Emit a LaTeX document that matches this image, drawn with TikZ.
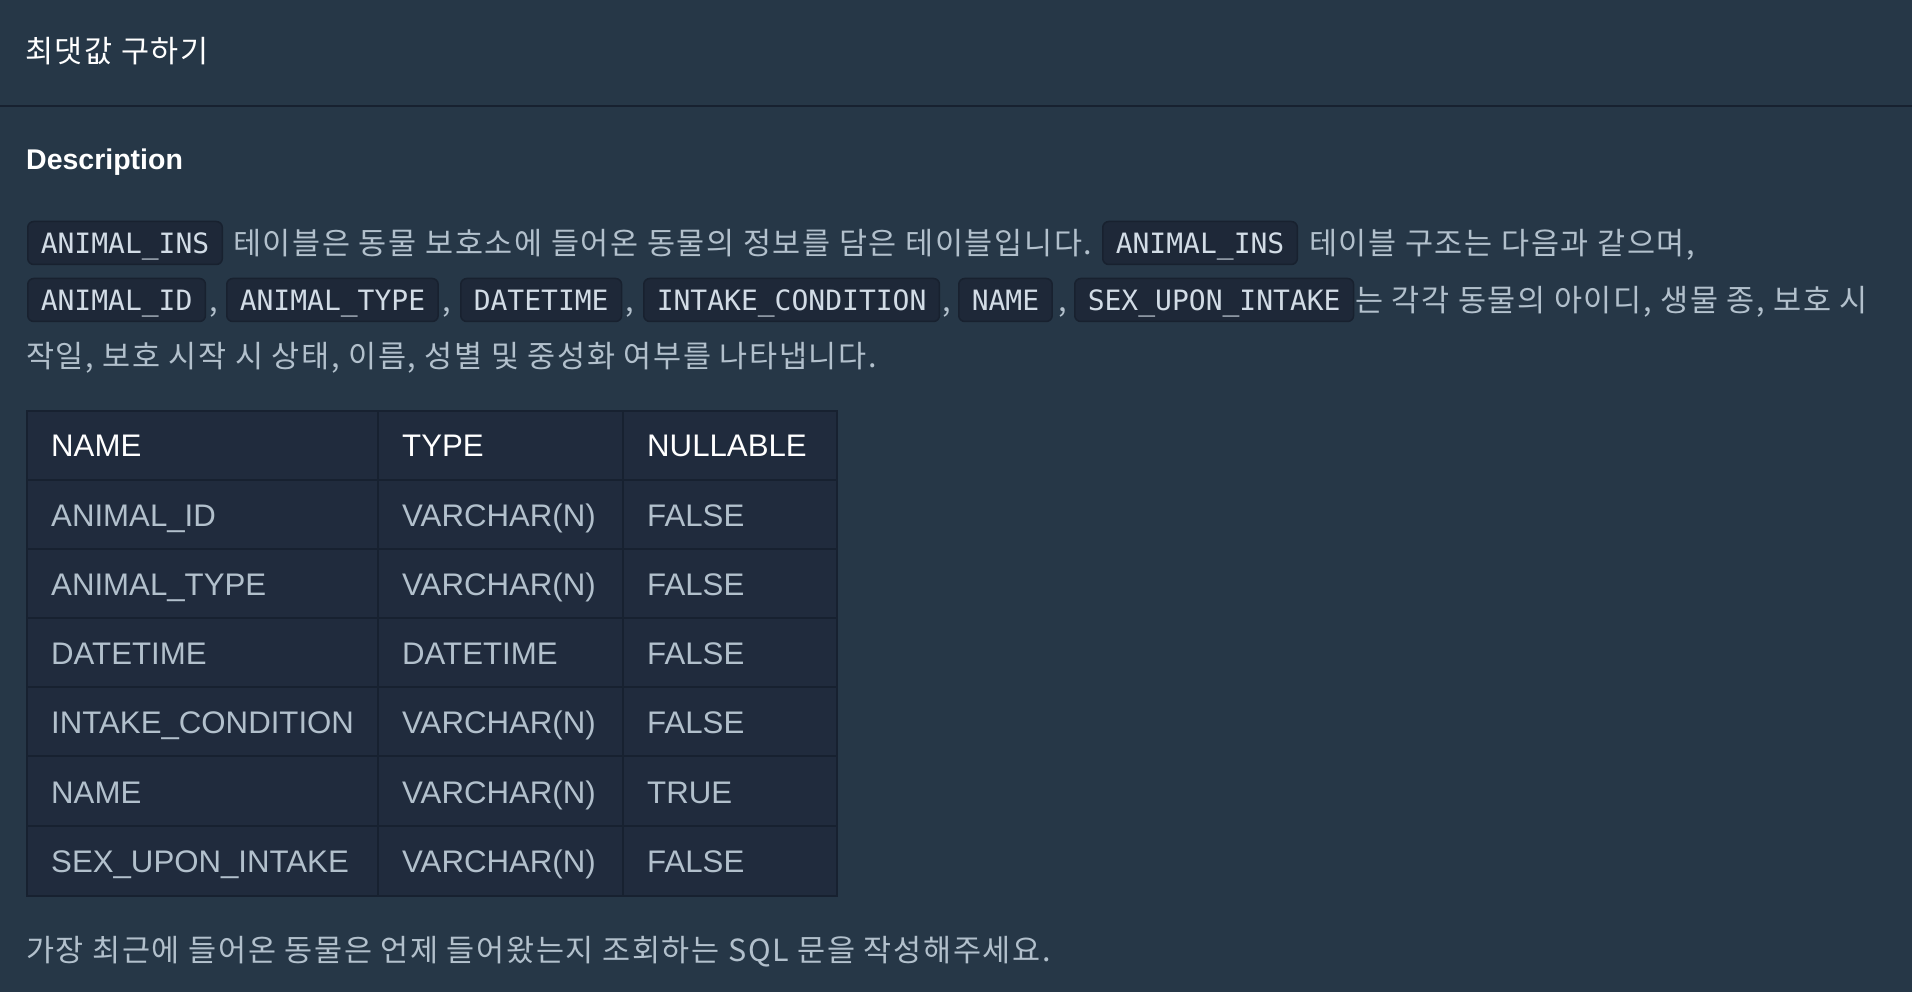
\documentclass[tikz,border=0pt]{standalone}
\usepackage{fontspec}
\setmainfont{Liberation Sans}
\newfontfamily\krfont[LetterSpace=5.5]{Noto Sans CJK KR}
\newfontfamily\codefont{DejaVu Sans Mono}
\usetikzlibrary{positioning}

\definecolor{pagebg}{HTML}{263747}
\definecolor{rulecol}{HTML}{172130}
\definecolor{cellbg}{HTML}{202B3D}
\definecolor{chipbg}{HTML}{1E2838}
\definecolor{chipline}{HTML}{18212F}
\definecolor{bodytxt}{HTML}{B2C0CC}
\definecolor{chiptxt}{HTML}{D2DCE6}

\tikzset{
	kr/.style={anchor=base west, inner sep=0pt, text=bodytxt,
	           font=\krfont\fontsize{30.5}{36}\selectfont},
	chip/.style={anchor=west, draw=chipline, line width=1.5pt, fill=chipbg,
	             rounded corners=6pt, inner xsep=13pt, inner ysep=0pt,
	             minimum height=43pt, text height=20.4pt, text depth=0pt,
	             text=chiptxt, font=\codefont\fontsize{28}{34}\selectfont},
	cell/.style={anchor=base west, inner sep=0pt, text=bodytxt,
	             font=\fontsize{31.2}{37}\selectfont},
	headcell/.style={cell, text=white}
}

\begin{document}
\begin{tikzpicture}[x=1pt,y=-1pt]
	\fill[pagebg] (0,0) rectangle (1912,992);
	\useasboundingbox (0,0) rectangle (1912,992);

	% header
	\node[kr, text=white, font=\krfont\fontsize{30.5}{36}\selectfont] (title) at (25,62.5) {최댓값 구하기};
	\draw[rulecol, line width=2pt] (0,106) -- (1912,106);
	\node[anchor=base west, inner sep=0pt, text=white, font=\bfseries\fontsize{28.5}{34}\selectfont] (desc) at (26,170) {Description};

	% first line
	\node[chip] (insA) at (27,243) {ANIMAL\_INS};
	\node[kr] (lineA) at (233,254.3) {테이블은 동물 보호소에 들어온 동물의 정보를 담은 테이블입니다.};
	\node[chip] (insB) at (1102,243) {ANIMAL\_INS};
	\node[kr] (lineB) at (1309,254.3) {테이블 구조는 다음과 같으며,};

	% second line
	\node[chip] (colid) at (27,300) {ANIMAL\_ID};
	\node[kr] (cmA) at (209,311.3) {,};
	\node[chip] (coltype) at (226,300) {ANIMAL\_TYPE};
	\node[kr] (cmB) at (442,311.3) {,};
	\node[chip] (coldate) at (460,300) {DATETIME};
	\node[kr] (cmC) at (625,311.3) {,};
	\node[chip] (colcond) at (643,300) {INTAKE\_CONDITION};
	\node[kr] (cmD) at (942,311.3) {,};
	\node[chip] (colname) at (958,300) {NAME};
	\node[kr] (cmE) at (1058,311.3) {,};
	\node[chip] (colsex) at (1074,300) {SEX\_UPON\_INTAKE};
	\node[kr] (lineC) at (1355,311.3) {는 각각 동물의 아이디, 생물 종, 보호 시};

	% third line
	\node[kr] (lineD) at (26,367) {작일, 보호 시작 시 상태, 이름, 성별 및 중성화 여부를 나타냅니다.};

	% table
	\fill[cellbg] (27,411) rectangle (837,896);
	\foreach \y in {480,549,618,687,756,826}
		\draw[rulecol, line width=2.5pt] (27,\y) -- (837,\y);
	\foreach \x in {378,623}
		\draw[rulecol, line width=2.5pt] (\x,411) -- (\x,896);
	\draw[rulecol, line width=2.5pt] (27,411) rectangle (837,896);

	\node[headcell] (hname) at (51,456.8) {NAME};
	\node[headcell] (htype) at (402,456.8) {TYPE};
	\node[headcell] (hnull) at (647,456.8) {NULLABLE};
	\foreach \nm/\ty/\nl [count=\i] in {ANIMAL\_ID/VARCHAR(N)/FALSE,
	                                    ANIMAL\_TYPE/VARCHAR(N)/FALSE,
	                                    DATETIME/DATETIME/FALSE,
	                                    INTAKE\_CONDITION/VARCHAR(N)/FALSE,
	                                    NAME/VARCHAR(N)/TRUE,
	                                    SEX\_UPON\_INTAKE/VARCHAR(N)/FALSE}{
		\pgfmathsetmacro\yb{456.8+69.29*\i}
		\node[cell] (name-\i) at (51,\yb) {\nm};
		\node[cell] (type-\i) at (402,\yb) {\ty};
		\node[cell] (null-\i) at (647,\yb) {\nl};
	}

	% question
	\node[kr] (ask) at (26,961) {가장 최근에 들어온 동물은 언제 들어왔는지 조회하는 SQL 문을 작성해주세요.};
\end{tikzpicture}
\end{document}
